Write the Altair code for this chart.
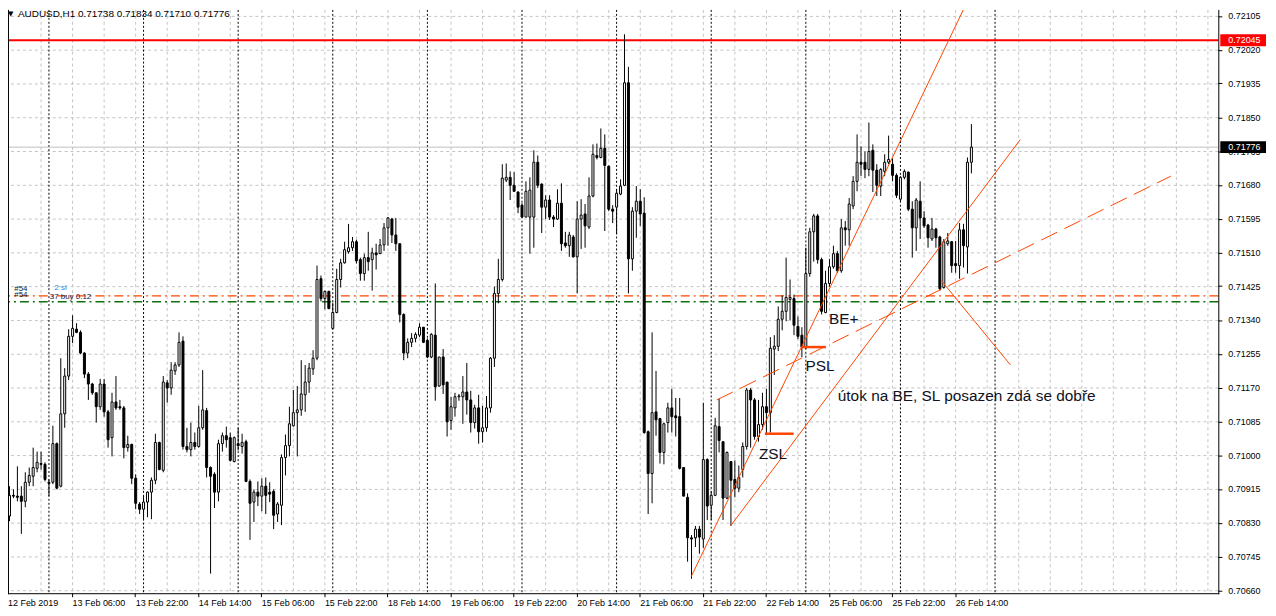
import altair as alt
import pandas as pd

# ---------------- candle data (AUDUSD H1) ----------------
opens = [
0.70848,0.70900,0.70898,0.70898,0.70885,0.70933,0.70948,0.70968,0.70980,0.70978,
0.70933,0.70933,0.71030,0.70923,0.71105,0.71200,0.71300,0.71318,0.71310,0.71258,
0.71205,0.71180,0.71158,0.71123,0.71180,0.71110,0.71045,0.71135,0.71123,0.71120,
0.71020,0.71028,0.70943,0.70878,0.70865,0.70883,0.70908,0.70938,0.71033,0.70963,
0.71183,0.71170,0.71213,0.71228,0.71288,0.71023,0.71015,0.71033,0.71023,0.71070,
0.71113,0.70970,0.70953,0.70908,0.71030,0.71050,0.71045,0.70985,0.71030,0.71023,
0.71035,0.70935,0.70883,0.70908,0.70898,0.70923,0.70908,0.70910,0.70853,0.70875,
0.70995,0.71025,0.71075,0.71108,0.71115,0.71153,0.71185,0.71218,0.71245,0.71445,
0.71395,0.71413,0.71320,0.71360,0.71443,0.71485,0.71513,0.71523,0.71538,0.71493,
0.71458,0.71498,0.71493,0.71510,0.71508,0.71530,0.71573,0.71595,0.71555,0.71533,
0.71355,0.71258,0.71285,0.71295,0.71303,0.71323,0.71290,0.71248,0.71303,0.71175,
0.71248,0.71185,0.71088,0.71120,0.71148,0.71148,0.71160,0.71140,0.71083,0.71120,
0.71060,0.71070,0.71120,0.71245,0.71408,0.71443,0.71693,0.71700,0.71680,0.71663,
0.71630,0.71600,0.71600,0.71600,0.71738,0.71683,0.71625,0.71643,0.71600,0.71595,
0.71635,0.71535,0.71528,0.71550,0.71500,0.71595,0.71608,0.71575,0.71653,0.71755,
0.71750,0.71773,0.71728,0.71620,0.71625,0.71658,0.71680,0.71938,0.71495,0.71615,
0.71640,0.71610,0.71060,0.70955,0.71110,0.71093,0.71008,0.71083,0.71120,0.71100,
0.71098,0.70970,0.70895,0.70793,0.70793,0.70815,0.70790,0.70990,0.70875,0.70900,
0.71073,0.71035,0.70893,0.70985,0.70940,0.70918,0.70965,0.71023,0.71165,0.71140,
0.71048,0.71078,0.71123,0.71108,0.71268,0.71275,0.71343,0.71363,0.71393,0.71395,
0.71325,0.71303,0.71273,0.71458,0.71563,0.71603,0.71493,0.71360,0.71433,0.71475,
0.71508,0.71465,0.71573,0.71568,0.71628,0.71690,0.71738,0.71738,0.71720,0.71768,
0.71718,0.71678,0.71715,0.71738,0.71733,0.71705,0.71645,0.71700,0.71713,0.71620,
0.71573,0.71640,0.71598,0.71580,0.71545,0.71570,0.71550,0.71423,0.71533,0.71538,
0.71483,0.71478,0.71568,0.71525,0.71738]

highs = [
0.70923,0.70915,0.70973,0.70923,0.70958,0.70970,0.71020,0.71010,0.71010,0.70983,
0.70940,0.71075,0.71033,0.71245,0.71220,0.71318,0.71353,0.71333,0.71315,0.71260,
0.71210,0.71183,0.71158,0.71193,0.71193,0.71115,0.71158,0.71200,0.71140,0.71125,
0.71050,0.71030,0.70953,0.70883,0.70898,0.70910,0.70945,0.71055,0.71035,0.71200,
0.71190,0.71235,0.71235,0.71310,0.71300,0.71070,0.71083,0.71058,0.71125,0.71215,
0.71120,0.70973,0.70958,0.71040,0.71058,0.71073,0.71058,0.71048,0.71070,0.71055,
0.71040,0.70940,0.70915,0.70935,0.70943,0.70945,0.70933,0.70915,0.70883,0.71003,
0.71053,0.71123,0.71165,0.71175,0.71240,0.71228,0.71233,0.71265,0.71478,0.71453,
0.71415,0.71415,0.71385,0.71470,0.71495,0.71538,0.71583,0.71550,0.71543,0.71498,
0.71508,0.71563,0.71523,0.71533,0.71545,0.71585,0.71600,0.71598,0.71598,0.71533,
0.71358,0.71295,0.71308,0.71310,0.71333,0.71323,0.71295,0.71308,0.71433,0.71248,
0.71268,0.71185,0.71148,0.71158,0.71155,0.71200,0.71233,0.71163,0.71128,0.71153,
0.71125,0.71150,0.71248,0.71425,0.71495,0.71733,0.71735,0.71715,0.71713,0.71665,
0.71635,0.71690,0.71700,0.71768,0.71755,0.71685,0.71655,0.71655,0.71605,0.71670,
0.71685,0.71563,0.71563,0.71555,0.71640,0.71645,0.71633,0.71700,0.71783,0.71785,
0.71823,0.71808,0.71730,0.71630,0.71670,0.71695,0.72060,0.71978,0.71625,0.71678,
0.71670,0.71650,0.71063,0.71310,0.71213,0.71095,0.71083,0.71133,0.71168,0.71145,
0.71145,0.70970,0.70905,0.70800,0.70823,0.70823,0.71133,0.70993,0.70910,0.71095,
0.71143,0.71035,0.71010,0.70985,0.70988,0.70975,0.71033,0.71170,0.71170,0.71145,
0.71140,0.71158,0.71168,0.71298,0.71303,0.71375,0.71403,0.71498,0.71443,0.71405,
0.71350,0.71323,0.71523,0.71573,0.71608,0.71608,0.71498,0.71465,0.71495,0.71528,
0.71515,0.71595,0.71590,0.71648,0.71703,0.71808,0.71778,0.71765,0.71838,0.71783,
0.71733,0.71723,0.71758,0.71805,0.71748,0.71710,0.71703,0.71720,0.71715,0.71640,
0.71648,0.71690,0.71615,0.71583,0.71598,0.71573,0.71553,0.71545,0.71560,0.71540,
0.71540,0.71585,0.71583,0.71750,0.71834]

lows = [
0.70835,0.70893,0.70885,0.70803,0.70870,0.70923,0.70923,0.70958,0.70965,0.70935,
0.70898,0.70928,0.70915,0.70920,0.71070,0.71190,0.71283,0.71308,0.71255,0.71195,
0.71140,0.71153,0.71083,0.71115,0.71098,0.71020,0.70998,0.71115,0.71115,0.70993,
0.71010,0.70928,0.70865,0.70853,0.70840,0.70845,0.70840,0.70928,0.70963,0.70958,
0.71133,0.71153,0.71203,0.71223,0.71015,0.71008,0.70998,0.71015,0.71020,0.71065,
0.70945,0.70703,0.70868,0.70885,0.71010,0.71020,0.70985,0.70983,0.71013,0.71005,
0.70933,0.70788,0.70833,0.70873,0.70860,0.70853,0.70883,0.70815,0.70833,0.70825,
0.70950,0.70998,0.71073,0.70998,0.71100,0.71110,0.71158,0.71203,0.71240,0.71388,
0.71368,0.71368,0.71318,0.71358,0.71423,0.71483,0.71508,0.71515,0.71483,0.71440,
0.71440,0.71465,0.71415,0.71468,0.71508,0.71515,0.71528,0.71535,0.71515,0.71335,
0.71240,0.71245,0.71273,0.71285,0.71298,0.71283,0.71245,0.71245,0.71138,0.71173,
0.71155,0.71048,0.71065,0.71098,0.71138,0.71080,0.71103,0.71058,0.71068,0.71030,
0.71033,0.71060,0.71108,0.71223,0.71383,0.71438,0.71688,0.71643,0.71663,0.71610,
0.71600,0.71600,0.71508,0.71523,0.71673,0.71560,0.71595,0.71593,0.71575,0.71593,
0.71515,0.71523,0.71500,0.71498,0.71408,0.71520,0.71523,0.71570,0.71650,0.71745,
0.71748,0.71565,0.71615,0.71585,0.71558,0.71655,0.71678,0.71408,0.71465,0.71548,
0.71578,0.71055,0.70853,0.70880,0.71050,0.70980,0.70978,0.71058,0.71058,0.71048,
0.70965,0.70898,0.70733,0.70690,0.70770,0.70753,0.70768,0.70838,0.70838,0.70898,
0.71008,0.70838,0.70890,0.70823,0.70895,0.70908,0.70945,0.71015,0.71020,0.71040,
0.71035,0.71065,0.71055,0.71058,0.71203,0.71263,0.71315,0.71338,0.71340,0.71303,
0.71293,0.71248,0.71268,0.71450,0.71488,0.71483,0.71355,0.71358,0.71425,0.71470,
0.71460,0.71460,0.71528,0.71528,0.71620,0.71665,0.71703,0.71698,0.71703,0.71663,
0.71653,0.71653,0.71703,0.71733,0.71690,0.71648,0.71640,0.71695,0.71615,0.71498,
0.71515,0.71545,0.71573,0.71523,0.71540,0.71523,0.71415,0.71420,0.71528,0.71460,
0.71460,0.71445,0.71473,0.71458,0.71710]

closes = [
0.70900,0.70898,0.70895,0.70885,0.70933,0.70950,0.70970,0.70983,0.70978,0.70940,
0.70930,0.71030,0.70918,0.71105,0.71200,0.71300,0.71320,0.71310,0.71258,0.71205,
0.71180,0.71158,0.71123,0.71180,0.71110,0.71040,0.71135,0.71120,0.71120,0.71020,
0.71028,0.70943,0.70880,0.70865,0.70883,0.70908,0.70938,0.71033,0.70965,0.71185,
0.71170,0.71215,0.71228,0.71285,0.71023,0.71015,0.71033,0.71023,0.71070,0.71115,
0.70970,0.70948,0.70908,0.71030,0.71050,0.71040,0.70988,0.71045,0.71025,0.71033,
0.70935,0.70880,0.70908,0.70898,0.70923,0.70900,0.70903,0.70850,0.70878,0.70995,
0.71025,0.71080,0.71108,0.71115,0.71155,0.71185,0.71220,0.71245,0.71443,0.71395,
0.71413,0.71370,0.71360,0.71443,0.71485,0.71518,0.71523,0.71538,0.71490,0.71458,
0.71498,0.71488,0.71510,0.71505,0.71530,0.71573,0.71598,0.71555,0.71533,0.71355,
0.71258,0.71285,0.71295,0.71305,0.71323,0.71285,0.71248,0.71305,0.71173,0.71248,
0.71178,0.71085,0.71123,0.71148,0.71150,0.71160,0.71140,0.71083,0.71120,0.71060,
0.71070,0.71120,0.71245,0.71408,0.71443,0.71698,0.71700,0.71680,0.71665,0.71625,
0.71600,0.71665,0.71668,0.71738,0.71680,0.71625,0.71643,0.71600,0.71595,0.71635,
0.71533,0.71528,0.71555,0.71500,0.71595,0.71605,0.71578,0.71653,0.71758,0.71750,
0.71773,0.71730,0.71620,0.71615,0.71660,0.71678,0.71938,0.71495,0.71615,0.71640,
0.71608,0.71058,0.70955,0.71108,0.71090,0.71008,0.71080,0.71120,0.71098,0.71095,
0.70968,0.70898,0.70793,0.70790,0.70815,0.70795,0.70990,0.70873,0.70900,0.71075,
0.71038,0.70893,0.71008,0.70938,0.70918,0.70945,0.71023,0.71165,0.71140,0.71048,
0.71078,0.71123,0.71108,0.71270,0.71275,0.71343,0.71363,0.71398,0.71398,0.71328,
0.71300,0.71273,0.71458,0.71563,0.71603,0.71493,0.71363,0.71433,0.71475,0.71508,
0.71465,0.71573,0.71568,0.71633,0.71690,0.71738,0.71733,0.71720,0.71765,0.71718,
0.71680,0.71720,0.71738,0.71745,0.71705,0.71655,0.71700,0.71715,0.71620,0.71573,
0.71643,0.71598,0.71578,0.71548,0.71570,0.71548,0.71420,0.71538,0.71540,0.71478,
0.71478,0.71568,0.71528,0.71738,0.71776]

# ---------------- axis texts ----------------
date_labels = ["12 Feb 2019", "13 Feb 06:00", "13 Feb 22:00", "14 Feb 14:00",
               "15 Feb 06:00", "15 Feb 22:00", "18 Feb 14:00", "19 Feb 06:00",
               "19 Feb 22:00", "20 Feb 14:00", "21 Feb 06:00", "21 Feb 22:00",
               "22 Feb 14:00", "25 Feb 06:00", "25 Feb 22:00", "26 Feb 14:00"]
price_ticks = [0.70660, 0.70745, 0.70830, 0.70915, 0.71000, 0.71085, 0.71170,
               0.71255, 0.71340, 0.71425, 0.71510, 0.71595, 0.71680, 0.71765,
               0.71850, 0.71935, 0.72020, 0.72105]
title_text = "AUDUSD,H1  0.71738 0.71834 0.71710 0.71776"

# ---------------- horizontal levels ----------------
alert_price = [0.72045]
bid_price = [0.71776]
sell_level = [0.71402]
buy_level = [0.71387]

# ---------------- drawn objects ----------------
trend_id = ["a", "a", "b", "b", "d", "d"]
trend_bar = [172.9, 242.6, 182.9, 256.4, 236.4, 253.9]
trend_price = [0.70695, 0.72135, 0.70823, 0.71795, 0.71440, 0.71228]
dash_bar = [179.4, 294.6]
dash_price = [0.71140, 0.71703]
sl_bar = [200.9, 191.6]
sl_bar2 = [207.1, 198.9]
sl_price = [0.71273, 0.71055]
note_text = ["BE+", "PSL", "ZSL", "útok na BE, SL posazen zdá se dobře"]
note_bar = [207.9, 201.9, 190.1, 210.1]
note_price = [0.71343, 0.71225, 0.71003, 0.71150]
trade_text = ["#54", "#54", "2 sl", "37 buy 0.12"]
trade_bar = [1.2, 1.2, 11.4, 10.2]
trade_price = [0.71420, 0.71403, 0.71422, 0.71399]
trade_color = ["#202020", "#202020", "#3a7fd0", "#202040"]

# ---------------- build ----------------
W, H = 1218, 587
FONT = "Liberation Sans"
last_bar = len(opens) - 1

candles = pd.DataFrame({"bar": list(range(len(opens))), "open": opens,
                        "high": highs, "low": lows, "close": closes})

xs = alt.Scale(domain=[0.875, 305.375], nice=False, zero=False)
ys = alt.Scale(domain=[0.7065375, 0.7212125], nice=False, zero=False)

labels_js = "[" + ",".join("'" + s + "'" for s in date_labels) + "]"
xaxis = alt.Axis(values=list(range(16, 241, 16)),
                 labelExpr=labels_js + "[round(datum.value / 16)]",
                 orient="bottom", grid=False, domain=False, translate=0,
                 tickColor="black", tickSize=4, labelAlign="left",
                 labelFont=FONT, labelFontSize=9, labelColor="black",
                 labelPadding=2, labelFlush=False, labelOverlap=False,
                 title=None)
yaxis = alt.Axis(values=price_ticks, format=".5f", orient="right", grid=False,
                 domain=False, translate=0, tickColor="black", tickSize=4,
                 labelFont=FONT, labelFontSize=9, labelColor="black",
                 labelPadding=6, labelOverlap=False, labelFlush=False,
                 title=None)


def X(f):
    return alt.X(f, type="quantitative", scale=xs, axis=xaxis)


def Y(f):
    return alt.Y(f, type="quantitative", scale=ys, axis=yaxis)


GRID = "#c4c4c4"
OBJ = "#ff4500"

vgrid = alt.Chart(pd.DataFrame({"bar": list(range(8, 306, 8))})).mark_rule(
    color=GRID, strokeDash=[3, 3], strokeWidth=1).encode(x=X("bar"))
hgrid = alt.Chart(pd.DataFrame({"p": price_ticks})).mark_rule(
    color=GRID, strokeDash=[3, 3], strokeWidth=1).encode(y=Y("p"))
# day separators only where there is data (MT4 does not draw them in the empty shift area)
daysep = alt.Chart(pd.DataFrame({"bar": list(range(10, last_bar + 10, 24))})).mark_rule(
    color="black", strokeDash=[2, 2], strokeWidth=1).encode(x=X("bar"))

bid_line = alt.Chart(pd.DataFrame({"p": bid_price})).mark_rule(
    color="#c0c0c0", strokeWidth=1).encode(y=Y("p"))
sell_line = alt.Chart(pd.DataFrame({"p": sell_level})).mark_rule(
    color="#ff4500", strokeWidth=1.3, strokeDash=[9, 4, 2, 4]).encode(y=Y("p"))
buy_line = alt.Chart(pd.DataFrame({"p": buy_level})).mark_rule(
    color="#107010", strokeWidth=1.3, strokeDash=[9, 4, 2, 4]).encode(y=Y("p"))
alert_line = alt.Chart(pd.DataFrame({"p": alert_price})).mark_rule(
    color="#ff0000", strokeWidth=2).encode(y=Y("p"))

wicks = alt.Chart(candles).mark_rule(color="black", strokeWidth=1, clip=True).encode(
    x=X("bar"), y=Y("low"), y2=alt.Y2("high"))
bodies = alt.Chart(candles).mark_bar(size=2, stroke="black", strokeWidth=1, clip=True).encode(
    x=X("bar"), y=Y("open"), y2=alt.Y2("close"),
    fill=alt.condition("datum.close >= datum.open", alt.value("white"), alt.value("black")))

trend = alt.Chart(pd.DataFrame({"id": trend_id, "bar": trend_bar, "p": trend_price})).mark_line(
    color=OBJ, strokeWidth=1, clip=True).encode(x=X("bar"), y=Y("p"), detail="id:N")
dashed = alt.Chart(pd.DataFrame({"bar": dash_bar, "p": dash_price})).mark_line(
    color=OBJ, strokeWidth=1, strokeDash=[18, 8], clip=True).encode(x=X("bar"), y=Y("p"))
sl_marks = alt.Chart(pd.DataFrame({"bar": sl_bar, "bar2": sl_bar2, "p": sl_price})).mark_rule(
    color=OBJ, strokeWidth=2.5).encode(x=X("bar"), x2=alt.X2("bar2"), y=Y("p"))

notes = alt.Chart(pd.DataFrame({"t": note_text, "bar": note_bar, "p": note_price})).mark_text(
    align="left", baseline="middle", font=FONT, fontSize=15.5, color="#101020").encode(
    x=X("bar"), y=Y("p"), text="t:N")
trades = alt.Chart(pd.DataFrame({"t": trade_text, "bar": trade_bar, "p": trade_price,
                                 "c": trade_color})).mark_text(
    align="left", baseline="middle", font=FONT, fontSize=8).encode(
    x=X("bar"), y=Y("p"), text="t:N", color=alt.Color("c:N", scale=None))

title_tri = alt.Chart(pd.DataFrame({"t": ["\u25bc"]})).mark_text(
    align="left", baseline="middle", font="DejaVu Sans", fontSize=7, color="black").encode(
    x=alt.value(0), y=alt.value(4), text="t:N")
title = alt.Chart(pd.DataFrame({"t": [title_text]})).mark_text(
    align="left", baseline="middle", font=FONT, fontSize=10, color="black").encode(
    x=alt.value(10), y=alt.value(4), text="t:N")

first_date = alt.Chart(pd.DataFrame({"t": [date_labels[0]]})).mark_text(
    align="left", baseline="top", font=FONT, fontSize=9, color="black").encode(
    x=alt.value(0), y=alt.value(H + 6), text="t:N")

alert_box = alt.Chart(pd.DataFrame({"p": alert_price})).mark_rule(
    color="#ff0000", strokeWidth=12, strokeCap="butt").encode(
    x=alt.value(1220), x2=alt.value(1266), y=Y("p"))
alert_txt = alt.Chart(pd.DataFrame({"p": alert_price, "t": ["0.72045"]})).mark_text(
    align="left", baseline="middle", font=FONT, fontSize=9, color="white").encode(
    x=alt.value(1228), y=Y("p"), text="t:N")
bid_box = alt.Chart(pd.DataFrame({"p": bid_price})).mark_rule(
    color="black", strokeWidth=12, strokeCap="butt").encode(
    x=alt.value(1220), x2=alt.value(1266), y=Y("p"))
bid_txt = alt.Chart(pd.DataFrame({"p": bid_price, "t": ["0.71776"]})).mark_text(
    align="left", baseline="middle", font=FONT, fontSize=9, color="white").encode(
    x=alt.value(1228), y=Y("p"), text="t:N")

frame_l = alt.Chart(pd.DataFrame({"k": [0]})).mark_rule(color="black", strokeWidth=1).encode(
    x=alt.value(0.5), y=alt.value(0), y2=alt.value(H + 1))
frame_r = alt.Chart(pd.DataFrame({"k": [0]})).mark_rule(color="black", strokeWidth=1).encode(
    x=alt.value(W + 0.5), y=alt.value(0), y2=alt.value(H + 1))
frame_b = alt.Chart(pd.DataFrame({"k": [0]})).mark_rule(color="black", strokeWidth=1).encode(
    x=alt.value(0), x2=alt.value(W + 1), y=alt.value(H + 0.5))

chart = alt.layer(
    vgrid, hgrid, daysep, bid_line, sell_line, buy_line, alert_line,
    wicks, bodies, trend, dashed, sl_marks, notes, trades,
    title_tri, title, first_date, alert_box, alert_txt, bid_box, bid_txt,
    frame_l, frame_r, frame_b
).properties(
    width=W, height=H, background="white",
    padding={"left": 0, "top": 0, "right": 50, "bottom": 21},
    autosize=alt.AutoSizeParams(type="none")
).configure_view(stroke=None)

chart.save("out.html", embed_options={"renderer": "svg", "actions": False})
